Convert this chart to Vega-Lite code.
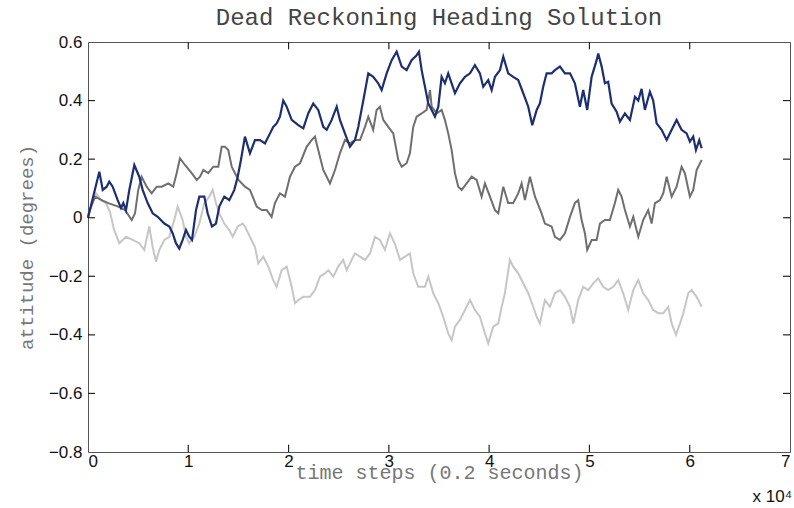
{
  "$schema": "https://vega.github.io/schema/vega-lite/v6.json",
  "width": 702,
  "height": 410,
  "autosize": {"type": "none"},
  "padding": {"left": 88, "top": 42, "right": 4, "bottom": 56},
  "background": "white",
  "title": {
    "text": "Dead Reckoning Heading Solution",
    "font": "Liberation Mono",
    "fontSize": 24,
    "fontWeight": "normal",
    "color": "#444444",
    "anchor": "middle",
    "offset": 3
  },
  "config": {
    "view": {"stroke": "#555555", "strokeWidth": 1},
    "axis": {
      "grid": false,
      "labelFont": "Liberation Sans",
      "labelFontSize": 17,
      "labelColor": "#111111",
      "titleFont": "Liberation Mono",
      "titleFontSize": 19,
      "titleFontWeight": "normal",
      "titleColor": "#777777"
    }
  },
  "datasets": {
    "navy": [
      {"t": 0, "deg": 0.0}, {"t": 70, "deg": 0.01}, {"t": 1130, "deg": 0.157}, {"t": 1470, "deg": 0.095}, {"t": 1860, "deg": 0.106},
      {"t": 2120, "deg": 0.123}, {"t": 2460, "deg": 0.106}, {"t": 2960, "deg": 0.06}, {"t": 3290, "deg": 0.033}, {"t": 3520, "deg": 0.05},
      {"t": 3790, "deg": 0.026}, {"t": 4120, "deg": 0.095}, {"t": 4620, "deg": 0.18}, {"t": 5110, "deg": 0.14}, {"t": 5450, "deg": 0.095},
      {"t": 5950, "deg": 0.05}, {"t": 6450, "deg": 0.015}, {"t": 6950, "deg": 0.003}, {"t": 7610, "deg": -0.02}, {"t": 8110, "deg": -0.03},
      {"t": 8440, "deg": -0.053}, {"t": 8770, "deg": -0.087}, {"t": 9100, "deg": -0.105}, {"t": 9440, "deg": -0.076}, {"t": 9770, "deg": -0.042},
      {"t": 10100, "deg": -0.065}, {"t": 10370, "deg": -0.076}, {"t": 10770, "deg": 0.026}, {"t": 11100, "deg": 0.072}, {"t": 11600, "deg": 0.072},
      {"t": 11930, "deg": 0.015}, {"t": 12360, "deg": -0.03}, {"t": 12760, "deg": -0.02}, {"t": 13090, "deg": 0.038}, {"t": 13590, "deg": 0.072},
      {"t": 14090, "deg": 0.06}, {"t": 14590, "deg": 0.095}, {"t": 14930, "deg": 0.14}, {"t": 15250, "deg": 0.197}, {"t": 15650, "deg": 0.277},
      {"t": 16150, "deg": 0.22}, {"t": 16650, "deg": 0.265}, {"t": 17150, "deg": 0.265}, {"t": 17650, "deg": 0.254}, {"t": 18150, "deg": 0.288},
      {"t": 18470, "deg": 0.31}, {"t": 18810, "deg": 0.322}, {"t": 19140, "deg": 0.345}, {"t": 19470, "deg": 0.4}, {"t": 19810, "deg": 0.379},
      {"t": 20310, "deg": 0.334}, {"t": 20970, "deg": 0.316}, {"t": 21470, "deg": 0.305}, {"t": 21960, "deg": 0.356}, {"t": 22460, "deg": 0.39},
      {"t": 22960, "deg": 0.368}, {"t": 23460, "deg": 0.31}, {"t": 23800, "deg": 0.3}, {"t": 24300, "deg": 0.334}, {"t": 24800, "deg": 0.379},
      {"t": 25120, "deg": 0.334}, {"t": 25620, "deg": 0.288}, {"t": 26120, "deg": 0.242}, {"t": 26620, "deg": 0.265}, {"t": 26950, "deg": 0.31},
      {"t": 27450, "deg": 0.4}, {"t": 27950, "deg": 0.493}, {"t": 28440, "deg": 0.481}, {"t": 28940, "deg": 0.459}, {"t": 29280, "deg": 0.436},
      {"t": 29780, "deg": 0.493}, {"t": 30280, "deg": 0.538}, {"t": 30780, "deg": 0.567}, {"t": 31280, "deg": 0.516}, {"t": 31770, "deg": 0.504},
      {"t": 32270, "deg": 0.538}, {"t": 32770, "deg": 0.555}, {"t": 33000, "deg": 0.567}, {"t": 33270, "deg": 0.504}, {"t": 33600, "deg": 0.447},
      {"t": 33930, "deg": 0.39}, {"t": 34270, "deg": 0.368}, {"t": 34600, "deg": 0.345}, {"t": 34930, "deg": 0.379}, {"t": 35260, "deg": 0.481},
      {"t": 35590, "deg": 0.459}, {"t": 35920, "deg": 0.493}, {"t": 36260, "deg": 0.459}, {"t": 36590, "deg": 0.425}, {"t": 37090, "deg": 0.459},
      {"t": 37590, "deg": 0.481}, {"t": 38090, "deg": 0.493}, {"t": 38580, "deg": 0.521}, {"t": 39080, "deg": 0.493}, {"t": 39410, "deg": 0.447},
      {"t": 39910, "deg": 0.47}, {"t": 40250, "deg": 0.436}, {"t": 40580, "deg": 0.481}, {"t": 41080, "deg": 0.504}, {"t": 41410, "deg": 0.55},
      {"t": 41900, "deg": 0.493}, {"t": 42400, "deg": 0.481}, {"t": 42900, "deg": 0.47}, {"t": 43400, "deg": 0.425}, {"t": 43900, "deg": 0.379},
      {"t": 44300, "deg": 0.316}, {"t": 44740, "deg": 0.368}, {"t": 45060, "deg": 0.39}, {"t": 45390, "deg": 0.447}, {"t": 45730, "deg": 0.493},
      {"t": 46230, "deg": 0.493}, {"t": 46560, "deg": 0.504}, {"t": 47060, "deg": 0.516}, {"t": 47560, "deg": 0.493}, {"t": 48060, "deg": 0.493},
      {"t": 48550, "deg": 0.459}, {"t": 49050, "deg": 0.379}, {"t": 49380, "deg": 0.436}, {"t": 49780, "deg": 0.368}, {"t": 50220, "deg": 0.481},
      {"t": 50720, "deg": 0.538}, {"t": 50880, "deg": 0.561}, {"t": 51220, "deg": 0.516}, {"t": 51540, "deg": 0.459}, {"t": 51870, "deg": 0.464},
      {"t": 52210, "deg": 0.39}, {"t": 52710, "deg": 0.362}, {"t": 53040, "deg": 0.328}, {"t": 53540, "deg": 0.356}, {"t": 54040, "deg": 0.334},
      {"t": 54540, "deg": 0.413}, {"t": 54870, "deg": 0.4}, {"t": 55200, "deg": 0.44}, {"t": 55530, "deg": 0.368}, {"t": 56030, "deg": 0.43},
      {"t": 56360, "deg": 0.4}, {"t": 56700, "deg": 0.322}, {"t": 57200, "deg": 0.3}, {"t": 57700, "deg": 0.265}, {"t": 58200, "deg": 0.3},
      {"t": 58690, "deg": 0.334}, {"t": 59190, "deg": 0.3}, {"t": 59690, "deg": 0.288}, {"t": 60020, "deg": 0.26}, {"t": 60350, "deg": 0.277},
      {"t": 60620, "deg": 0.231}, {"t": 60950, "deg": 0.265}, {"t": 61190, "deg": 0.237}
    ],
    "gray": [
      {"t": 0, "deg": 0.0}, {"t": 70, "deg": 0.015}, {"t": 700, "deg": 0.072}, {"t": 1370, "deg": 0.06}, {"t": 2020, "deg": 0.05},
      {"t": 3020, "deg": 0.038}, {"t": 3690, "deg": 0.026}, {"t": 4360, "deg": -0.008}, {"t": 4690, "deg": 0.015}, {"t": 5010, "deg": 0.095},
      {"t": 5350, "deg": 0.14}, {"t": 5850, "deg": 0.106}, {"t": 6350, "deg": 0.083}, {"t": 6850, "deg": 0.106}, {"t": 7350, "deg": 0.106},
      {"t": 8010, "deg": 0.117}, {"t": 8500, "deg": 0.106}, {"t": 8840, "deg": 0.152}, {"t": 9170, "deg": 0.203}, {"t": 9670, "deg": 0.18},
      {"t": 10340, "deg": 0.152}, {"t": 10840, "deg": 0.129}, {"t": 11170, "deg": 0.14}, {"t": 11500, "deg": 0.163}, {"t": 11990, "deg": 0.152},
      {"t": 12490, "deg": 0.174}, {"t": 12990, "deg": 0.174}, {"t": 13330, "deg": 0.242}, {"t": 13660, "deg": 0.242}, {"t": 13990, "deg": 0.231},
      {"t": 14330, "deg": 0.174}, {"t": 14660, "deg": 0.152}, {"t": 14990, "deg": 0.13}, {"t": 15650, "deg": 0.106}, {"t": 16150, "deg": 0.095},
      {"t": 16820, "deg": 0.038}, {"t": 17320, "deg": 0.026}, {"t": 17820, "deg": 0.026}, {"t": 18310, "deg": 0.003}, {"t": 18640, "deg": 0.05},
      {"t": 19140, "deg": 0.083}, {"t": 19640, "deg": 0.072}, {"t": 20140, "deg": 0.14}, {"t": 20640, "deg": 0.174}, {"t": 21140, "deg": 0.186},
      {"t": 21800, "deg": 0.242}, {"t": 22300, "deg": 0.265}, {"t": 22630, "deg": 0.277}, {"t": 22960, "deg": 0.231}, {"t": 23460, "deg": 0.163},
      {"t": 23960, "deg": 0.129}, {"t": 24130, "deg": 0.117}, {"t": 24630, "deg": 0.163}, {"t": 25120, "deg": 0.22}, {"t": 25620, "deg": 0.265},
      {"t": 26120, "deg": 0.254}, {"t": 26620, "deg": 0.265}, {"t": 27120, "deg": 0.265}, {"t": 27620, "deg": 0.31}, {"t": 27950, "deg": 0.345},
      {"t": 28440, "deg": 0.3}, {"t": 28780, "deg": 0.368}, {"t": 29110, "deg": 0.379}, {"t": 29440, "deg": 0.334}, {"t": 29940, "deg": 0.31},
      {"t": 30440, "deg": 0.288}, {"t": 30940, "deg": 0.197}, {"t": 31280, "deg": 0.174}, {"t": 31770, "deg": 0.186}, {"t": 32100, "deg": 0.22},
      {"t": 32430, "deg": 0.31}, {"t": 32770, "deg": 0.345}, {"t": 33270, "deg": 0.356}, {"t": 33770, "deg": 0.368}, {"t": 34100, "deg": 0.436},
      {"t": 34270, "deg": 0.379}, {"t": 34770, "deg": 0.356}, {"t": 35260, "deg": 0.368}, {"t": 35590, "deg": 0.334}, {"t": 35920, "deg": 0.288},
      {"t": 36260, "deg": 0.231}, {"t": 36590, "deg": 0.152}, {"t": 36920, "deg": 0.106}, {"t": 37260, "deg": 0.095}, {"t": 37760, "deg": 0.117},
      {"t": 38260, "deg": 0.14}, {"t": 38750, "deg": 0.129}, {"t": 39250, "deg": 0.072}, {"t": 39580, "deg": 0.117}, {"t": 40080, "deg": 0.072},
      {"t": 40580, "deg": 0.026}, {"t": 40910, "deg": 0.015}, {"t": 41410, "deg": 0.106}, {"t": 41900, "deg": 0.05}, {"t": 42400, "deg": 0.05},
      {"t": 42900, "deg": 0.083}, {"t": 43240, "deg": 0.117}, {"t": 43570, "deg": 0.06}, {"t": 44070, "deg": 0.14}, {"t": 44570, "deg": 0.072},
      {"t": 45230, "deg": 0.015}, {"t": 45560, "deg": -0.02}, {"t": 46230, "deg": -0.03}, {"t": 46560, "deg": -0.065}, {"t": 47060, "deg": -0.076},
      {"t": 47560, "deg": -0.053}, {"t": 48060, "deg": 0.003}, {"t": 48550, "deg": 0.05}, {"t": 48880, "deg": 0.06}, {"t": 49220, "deg": -0.008},
      {"t": 49550, "deg": -0.053}, {"t": 49780, "deg": -0.11}, {"t": 50220, "deg": -0.076}, {"t": 50720, "deg": -0.076}, {"t": 51050, "deg": -0.02},
      {"t": 51540, "deg": -0.008}, {"t": 52040, "deg": -0.008}, {"t": 52540, "deg": 0.05}, {"t": 52870, "deg": 0.095}, {"t": 53210, "deg": 0.072},
      {"t": 53540, "deg": 0.026}, {"t": 54040, "deg": -0.03}, {"t": 54370, "deg": 0.003}, {"t": 54870, "deg": -0.065}, {"t": 55360, "deg": -0.008},
      {"t": 55860, "deg": 0.026}, {"t": 56200, "deg": -0.02}, {"t": 56530, "deg": 0.05}, {"t": 57030, "deg": 0.06}, {"t": 57360, "deg": 0.083},
      {"t": 57700, "deg": 0.14}, {"t": 58200, "deg": 0.072}, {"t": 58690, "deg": 0.106}, {"t": 59190, "deg": 0.174}, {"t": 59520, "deg": 0.152},
      {"t": 60020, "deg": 0.072}, {"t": 60350, "deg": 0.095}, {"t": 60690, "deg": 0.163}, {"t": 61190, "deg": 0.197}
    ],
    "light": [
      {"t": 0, "deg": 0.0}, {"t": 70, "deg": 0.01}, {"t": 400, "deg": 0.05}, {"t": 800, "deg": 0.083}, {"t": 1300, "deg": 0.06},
      {"t": 1790, "deg": 0.05}, {"t": 2190, "deg": 0.02}, {"t": 2590, "deg": -0.04}, {"t": 3120, "deg": -0.087}, {"t": 3790, "deg": -0.065},
      {"t": 4460, "deg": -0.076}, {"t": 5110, "deg": -0.087}, {"t": 5610, "deg": -0.11}, {"t": 6110, "deg": -0.03}, {"t": 6450, "deg": -0.1},
      {"t": 6780, "deg": -0.15}, {"t": 7110, "deg": -0.11}, {"t": 7610, "deg": -0.076}, {"t": 8110, "deg": -0.065}, {"t": 8600, "deg": -0.008},
      {"t": 8940, "deg": 0.038}, {"t": 9440, "deg": -0.008}, {"t": 9770, "deg": -0.065}, {"t": 10100, "deg": -0.087}, {"t": 10600, "deg": -0.065},
      {"t": 11100, "deg": -0.02}, {"t": 11600, "deg": 0.05}, {"t": 12090, "deg": 0.072}, {"t": 12430, "deg": 0.095}, {"t": 12760, "deg": 0.05},
      {"t": 13090, "deg": 0.015}, {"t": 13590, "deg": -0.02}, {"t": 14090, "deg": -0.042}, {"t": 14430, "deg": -0.065}, {"t": 14930, "deg": -0.03},
      {"t": 15420, "deg": -0.02}, {"t": 15650, "deg": -0.03}, {"t": 16150, "deg": -0.065}, {"t": 16650, "deg": -0.1}, {"t": 16980, "deg": -0.156},
      {"t": 17480, "deg": -0.133}, {"t": 17980, "deg": -0.167}, {"t": 18470, "deg": -0.213}, {"t": 18810, "deg": -0.236}, {"t": 19310, "deg": -0.179},
      {"t": 19810, "deg": -0.167}, {"t": 20310, "deg": -0.236}, {"t": 20640, "deg": -0.292}, {"t": 20970, "deg": -0.281}, {"t": 21470, "deg": -0.27},
      {"t": 22130, "deg": -0.27}, {"t": 22630, "deg": -0.247}, {"t": 23130, "deg": -0.201}, {"t": 23630, "deg": -0.19}, {"t": 23960, "deg": -0.179},
      {"t": 24460, "deg": -0.201}, {"t": 24950, "deg": -0.167}, {"t": 25450, "deg": -0.144}, {"t": 25790, "deg": -0.179}, {"t": 26290, "deg": -0.144},
      {"t": 26620, "deg": -0.122}, {"t": 27120, "deg": -0.133}, {"t": 27620, "deg": -0.144}, {"t": 28120, "deg": -0.122}, {"t": 28610, "deg": -0.065},
      {"t": 29110, "deg": -0.076}, {"t": 29610, "deg": -0.11}, {"t": 30110, "deg": -0.053}, {"t": 30610, "deg": -0.09}, {"t": 31110, "deg": -0.144},
      {"t": 31610, "deg": -0.133}, {"t": 32100, "deg": -0.122}, {"t": 32430, "deg": -0.19}, {"t": 32930, "deg": -0.236}, {"t": 33600, "deg": -0.236},
      {"t": 33930, "deg": -0.201}, {"t": 34430, "deg": -0.258}, {"t": 34930, "deg": -0.292}, {"t": 35420, "deg": -0.338}, {"t": 35920, "deg": -0.395},
      {"t": 36260, "deg": -0.418}, {"t": 36590, "deg": -0.372}, {"t": 37090, "deg": -0.349}, {"t": 37590, "deg": -0.315}, {"t": 38090, "deg": -0.281},
      {"t": 38580, "deg": -0.315}, {"t": 39080, "deg": -0.338}, {"t": 39580, "deg": -0.395}, {"t": 39910, "deg": -0.429}, {"t": 40410, "deg": -0.372},
      {"t": 40910, "deg": -0.361}, {"t": 41250, "deg": -0.304}, {"t": 41570, "deg": -0.258}, {"t": 42070, "deg": -0.144}, {"t": 42400, "deg": -0.167},
      {"t": 42900, "deg": -0.19}, {"t": 43400, "deg": -0.224}, {"t": 43900, "deg": -0.258}, {"t": 44400, "deg": -0.304}, {"t": 44740, "deg": -0.338},
      {"t": 45060, "deg": -0.361}, {"t": 45560, "deg": -0.281}, {"t": 46060, "deg": -0.304}, {"t": 46560, "deg": -0.258}, {"t": 47060, "deg": -0.247},
      {"t": 47560, "deg": -0.27}, {"t": 48060, "deg": -0.304}, {"t": 48390, "deg": -0.361}, {"t": 48880, "deg": -0.281}, {"t": 49380, "deg": -0.236},
      {"t": 49880, "deg": -0.247}, {"t": 50380, "deg": -0.224}, {"t": 50880, "deg": -0.207}, {"t": 51370, "deg": -0.236}, {"t": 51870, "deg": -0.247},
      {"t": 52370, "deg": -0.236}, {"t": 52870, "deg": -0.213}, {"t": 53370, "deg": -0.258}, {"t": 53870, "deg": -0.315}, {"t": 54370, "deg": -0.247},
      {"t": 54870, "deg": -0.213}, {"t": 55360, "deg": -0.258}, {"t": 55860, "deg": -0.281}, {"t": 56360, "deg": -0.315}, {"t": 56860, "deg": -0.326},
      {"t": 57360, "deg": -0.326}, {"t": 57860, "deg": -0.304}, {"t": 58200, "deg": -0.361}, {"t": 58630, "deg": -0.4}, {"t": 59030, "deg": -0.361},
      {"t": 59360, "deg": -0.326}, {"t": 59850, "deg": -0.258}, {"t": 60190, "deg": -0.247}, {"t": 60690, "deg": -0.27}, {"t": 61190, "deg": -0.304}
    ],
    "xticks": [{"t": 10000}, {"t": 20000}, {"t": 30000}, {"t": 40000}, {"t": 50000}, {"t": 60000}],
    "yticks": [{"deg": -0.6}, {"deg": -0.4}, {"deg": -0.2}, {"deg": 0}, {"deg": 0.2}, {"deg": 0.4}]
  },
  "layer": [
    {
      "data": {"name": "light"},
      "mark": {"type": "line", "color": "#c6c6c6", "strokeWidth": 2},
      "encoding": {
        "x": {
          "field": "t", "type": "quantitative",
          "scale": {"domain": [0, 70000], "nice": false, "zero": false},
          "axis": {
            "orient": "bottom",
            "domain": false,
            "values": [0, 10000, 20000, 30000, 40000, 50000, 60000, 70000],
            "labelExpr": "datum.value / 10000",
            "ticks": false,
            "labelPadding": 1,
            "title": "time steps (0.2 seconds)",
            "titleFontSize": 20,
            "titlePadding": -7
          }
        },
        "y": {
          "field": "deg", "type": "quantitative",
          "scale": {"domain": [-0.8, 0.6], "nice": false, "zero": false},
          "axis": {
            "orient": "left",
            "domain": false,
            "values": [-0.8, -0.6, -0.4, -0.2, 0, 0.2, 0.4, 0.6],
            "format": ".1~f",
            "ticks": false,
            "labelPadding": 6,
            "title": "attitude (degrees)",
            "titlePadding": 12
          }
        }
      }
    },
    {
      "data": {"name": "gray"},
      "mark": {"type": "line", "color": "#6f6f6f", "strokeWidth": 2},
      "encoding": {
        "x": {"field": "t", "type": "quantitative"},
        "y": {"field": "deg", "type": "quantitative"}
      }
    },
    {
      "data": {"name": "navy"},
      "mark": {"type": "line", "color": "#1c2f70", "strokeWidth": 2.2},
      "encoding": {
        "x": {"field": "t", "type": "quantitative"},
        "y": {"field": "deg", "type": "quantitative"}
      }
    },
    {
      "data": {"name": "xticks"},
      "mark": {"type": "rule", "color": "#222222", "strokeWidth": 1.2, "opacity": 1},
      "encoding": {
        "x": {"field": "t", "type": "quantitative"},
        "y": {"datum": 0.6, "type": "quantitative"},
        "y2": {"datum": 0.575}
      }
    },
    {
      "data": {"name": "xticks"},
      "mark": {"type": "rule", "color": "#222222", "strokeWidth": 1.2, "opacity": 1},
      "encoding": {
        "x": {"field": "t", "type": "quantitative"},
        "y": {"datum": -0.8, "type": "quantitative"},
        "y2": {"datum": -0.775}
      }
    },
    {
      "data": {"name": "yticks"},
      "mark": {"type": "rule", "color": "#222222", "strokeWidth": 1.2, "opacity": 1},
      "encoding": {
        "x": {"datum": 0, "type": "quantitative"},
        "x2": {"datum": 700},
        "y": {"field": "deg", "type": "quantitative"}
      }
    },
    {
      "data": {"name": "yticks"},
      "mark": {"type": "rule", "color": "#222222", "strokeWidth": 1.2, "opacity": 1},
      "encoding": {
        "x": {"datum": 70000, "type": "quantitative"},
        "x2": {"datum": 69300},
        "y": {"field": "deg", "type": "quantitative"}
      }
    },
    {
      "data": {"values": [{"t": 70000, "deg": -0.8, "label": "x 10⁴"}]},
      "mark": {"type": "text", "align": "right", "baseline": "middle", "dy": 45, "dx": 2, "font": "Liberation Sans", "fontSize": 17, "color": "#111111"},
      "encoding": {
        "x": {"field": "t", "type": "quantitative"},
        "y": {"field": "deg", "type": "quantitative"},
        "text": {"field": "label"}
      }
    }
  ]
}
